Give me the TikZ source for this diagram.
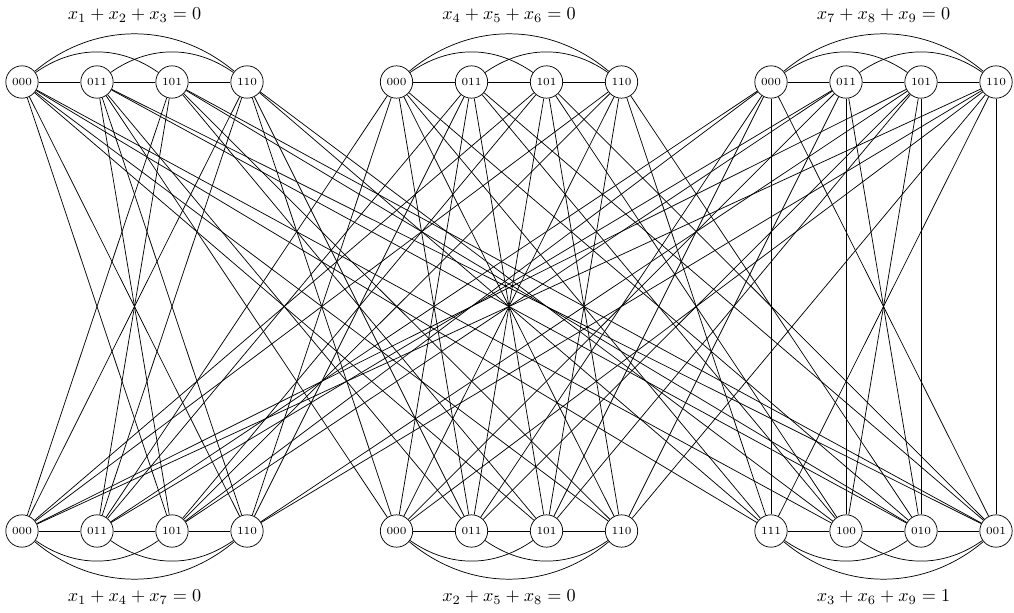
\documentclass[tikz,border=0pt]{standalone}
\usepackage{amsmath}
\usepackage{tikz}
\usetikzlibrary{positioning}

\begin{document}
\begin{tikzpicture}[
  x=0.55pt, y=-0.55pt,
  vtx/.style={circle, draw, minimum size=17.8pt, inner sep=0pt,
              font=\fontsize{6}{7}\selectfont},
  lbl/.style={font=\normalsize}
]
\useasboundingbox (0,0) rectangle (1014,613);

% vertices: top row = row constraints, bottom row = column constraints
\foreach \c in {1,2,3}
  \foreach \k/\txt in {1/000,2/011,3/101,4/110}
    \node[vtx] (t\c\k) at ({22+374.5*(\c-1)+75*(\k-1)},82) {\txt};
\foreach \c in {1,2}
  \foreach \k/\txt in {1/000,2/011,3/101,4/110}
    \node[vtx] (b\c\k) at ({22+374.5*(\c-1)+75*(\k-1)},531) {\txt};
\foreach \k/\txt in {1/111,2/100,3/010,4/001}
  \node[vtx] (b3\k) at ({771+75*(\k-1)},531) {\txt};

% constraint labels
\node[lbl] (lt1) at (134.5,15) {$x_1+x_2+x_3=0$};
\node[lbl] (lt2) at (509,15) {$x_4+x_5+x_6=0$};
\node[lbl] (lt3) at (883.5,15) {$x_7+x_8+x_9=0$};
\node[lbl] (lb1) at (134.5,597) {$x_1+x_4+x_7=0$};
\node[lbl] (lb2) at (509,597) {$x_2+x_5+x_8=0$};
\node[lbl] (lb3) at (883.5,597) {$x_3+x_6+x_9=1$};

% edges inside each context
\foreach \c in {1,2,3} {
  \draw (t\c1) -- (t\c2) -- (t\c3) -- (t\c4);
  \draw (t\c1) to[bend left=35] (t\c3);
  \draw (t\c2) to[bend left=35] (t\c4);
  \draw (t\c1) to[bend left=40] (t\c4);
  \draw (b\c1) -- (b\c2) -- (b\c3) -- (b\c4);
  \draw (b\c1) to[bend right=35] (b\c3);
  \draw (b\c2) to[bend right=35] (b\c4);
  \draw (b\c1) to[bend right=40] (b\c4);
}

% edges between row i and column j: shared variable disagrees
\foreach \i in {1,2,3}
  \foreach \k/\t in {1/0,2/3,3/5,4/6}
    \foreach \j in {1,2,3}
      \foreach \l in {1,2,3,4} {
        \pgfmathtruncatemacro\b{{0,3,5,6,7,4,2,1}[\l-1+4*(\j==3)]}
        \pgfmathtruncatemacro\tb{mod(floor(\t/2^(3-\j)),2)}
        \pgfmathtruncatemacro\bb{mod(floor(\b/2^(3-\i)),2)}
        \ifnum\tb=\bb\else
          \draw (t\i\k) -- (b\j\l);
        \fi
      }

\end{tikzpicture}
\end{document}
